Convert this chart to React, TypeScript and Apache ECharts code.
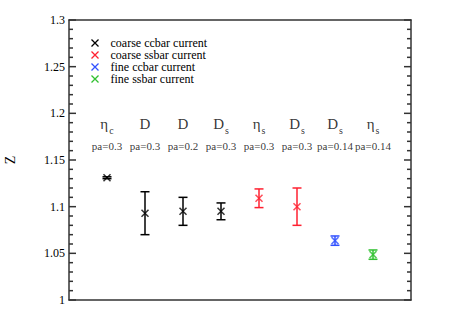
import React, { useEffect, useRef } from "react";
import * as echarts from "echarts";

const seriesNames = ["coarse ccbar current", "coarse ssbar current", "fine ccbar current", "fine ssbar current"];
const seriesColors = ["#000000", "#ff2030", "#3050ff", "#30c030"];
const positions = [1, 2, 3, 4, 5, 6, 7, 8];
const mesonBase = ["η", "D", "D", "D", "η", "D", "D", "η"];
const mesonSub = ["c", "", "", "s", "s", "s", "s", "s"];
const paLabels = ["pa=0.3", "pa=0.3", "pa=0.2", "pa=0.3", "pa=0.3", "pa=0.3", "pa=0.14", "pa=0.14"];
const zValues = [1.131, 1.093, 1.095, 1.095, 1.109, 1.1, 1.0636, 1.0486];
const zErrors = [0.001, 0.023, 0.015, 0.009, 0.01, 0.02, 0.005, 0.005];
const groupIndex = [0, 0, 0, 0, 1, 1, 2, 3];
const yTicks = [1, 1.05, 1.1, 1.15, 1.2, 1.25, 1.3];
const yMinorTicks = [
  1.01, 1.02, 1.03, 1.04, 1.06, 1.07, 1.08, 1.09, 1.11, 1.12, 1.13, 1.14,
  1.16, 1.17, 1.18, 1.19, 1.21, 1.22, 1.23, 1.24, 1.26, 1.27, 1.28, 1.29,
];
const nameLabelZ = 1.1905;
const paLabelZ = 1.165;
const X_MIN = 0;
const X_MAX = 9;

const FONT = "Liberation Serif";
const XPATH = "path://M0,0L10,10M10,0L0,10";
const MAJOR_LEN = 7;
const MINOR_LEN = 4;

export default function App() {
  const ref = useRef<HTMLDivElement>(null);
  useEffect(() => {
    const chart = echarts.init(ref.current!, null, { renderer: "svg" });
    const series: any[] = [];
    const tickColor = "#333";
    series.push({
      type: "custom",
      silent: true,
      clip: false,
      data: [
        ...yTicks.map((v) => [X_MIN, v, MAJOR_LEN]),
        ...yMinorTicks.map((v) => [X_MIN, v, MINOR_LEN]),
      ],
      renderItem: (params: any, api: any) => {
        const v = api.value(1);
        const len = api.value(2);
        const l = api.coord([X_MIN, v]);
        const r = api.coord([X_MAX, v]);
        const st = { stroke: tickColor, lineWidth: 1.5 };
        return {
          type: "group",
          children: [
            { type: "line", shape: { x1: l[0], y1: l[1], x2: l[0] + len, y2: l[1] }, style: st },
            { type: "line", shape: { x1: r[0], y1: r[1], x2: r[0] - len, y2: r[1] }, style: st },
          ],
        };
      },
      z: 1,
    });
    seriesNames.forEach((name, g) => {
      const idx = positions.map((_, i) => i).filter((i) => groupIndex[i] === g);
      const color = seriesColors[g];
      series.push({
        type: "custom",
        name,
        silent: true,
        data: idx.map((i) => [positions[i], zValues[i], zValues[i] - zErrors[i], zValues[i] + zErrors[i]]),
        renderItem: (params: any, api: any) => {
          const x = api.value(0);
          const lo = api.coord([x, api.value(2)]);
          const hi = api.coord([x, api.value(3)]);
          const hw = 4.5;
          const st = { stroke: color, lineWidth: 1.5 };
          return {
            type: "group",
            children: [
              { type: "line", shape: { x1: lo[0], y1: lo[1], x2: hi[0], y2: hi[1] }, style: st },
              { type: "line", shape: { x1: lo[0] - hw, y1: lo[1], x2: lo[0] + hw, y2: lo[1] }, style: st },
              { type: "line", shape: { x1: hi[0] - hw, y1: hi[1], x2: hi[0] + hw, y2: hi[1] }, style: st },
            ],
          };
        },
        z: 2,
      });
      series.push({
        type: "scatter",
        name,
        symbol: XPATH,
        symbolSize: 7,
        itemStyle: { color: "none", borderColor: color, borderWidth: 1.5 },
        data: idx.map((i) => [positions[i], zValues[i]]),
        z: 3,
      });
    });
    series.push({
      type: "scatter",
      silent: true,
      symbolSize: 0,
      data: positions.map((p, i) => ({ value: [p, nameLabelZ], base: mesonBase[i], sub: mesonSub[i] })),
      label: {
        show: true,
        position: "inside",
        formatter: (p: any) => {
          const d = p.data;
          return d.sub ? `{b|${d.base}}{s|${d.sub}}` : `{b|${d.base}}`;
        },
        rich: {
          b: { fontFamily: FONT, fontSize: 15, color: "#000", verticalAlign: "bottom", lineHeight: 18 },
          s: { fontFamily: FONT, fontSize: 10, color: "#000", verticalAlign: "bottom", lineHeight: 10, padding: [0, 0, -4, 1] },
        },
      },
    });
    series.push({
      type: "scatter",
      silent: true,
      symbolSize: 0,
      data: positions.map((p, i) => ({ value: [p, paLabelZ], pa: paLabels[i] })),
      label: {
        show: true,
        position: "inside",
        formatter: (p: any) => p.data.pa,
        fontFamily: FONT,
        fontSize: 11,
        color: "#000",
      },
    });

    const axisLine = { show: true, onZero: false, lineStyle: { color: "#333", width: 1.5 } };
    const hiddenX = { axisLine, axisTick: { show: false }, axisLabel: { show: false }, splitLine: { show: false } };
    chart.setOption({
      animation: false,
      grid: { left: 69, right: 46, top: 20, bottom: 23, outerBoundsMode: "none", containLabel: false },
      legend: {
        orient: "vertical",
        left: 84,
        top: 32,
        itemWidth: 7,
        itemHeight: 7,
        itemGap: 0,
        data: seriesNames.map((n, g) => ({
          name: n,
          icon: XPATH,
          itemStyle: { color: "none", borderColor: seriesColors[g], borderWidth: 1.3 },
        })),
        textStyle: { fontFamily: FONT, fontSize: 12, color: "#000", padding: [0, 0, 0, 7], lineHeight: 12 },
        selectedMode: false,
      },
      xAxis: [
        { type: "value", min: X_MIN, max: X_MAX, ...hiddenX },
        { type: "value", position: "top", min: X_MIN, max: X_MAX, ...hiddenX },
      ],
      yAxis: [
        {
          type: "value",
          position: "left",
          min: 1,
          max: 1.3,
          interval: 0.05,
          name: "Z",
          nameLocation: "middle",
          nameRotate: 90,
          nameGap: 52,
          nameTextStyle: { fontFamily: FONT, fontSize: 14, color: "#000" },
          axisLine,
          axisTick: { show: false },
          axisLabel: {
            fontFamily: FONT,
            fontSize: 12,
            color: "#000",
            margin: 4,
            formatter: (v: number) => {
              const t = yTicks.find((k) => Math.abs(k - v) < 1e-6);
              return t === undefined ? "" : String(parseFloat(t.toFixed(2)));
            },
          },
          splitLine: { show: false },
        },
        {
          type: "value",
          position: "right",
          min: 1,
          max: 1.3,
          interval: 0.05,
          axisLine,
          axisTick: { show: false },
          axisLabel: { show: false },
          splitLine: { show: false },
        },
      ],
      series,
    });
    return () => chart.dispose();
  }, []);
  return <div ref={ref} style={{ width: 457, height: 323, position: "absolute", left: 0, top: 0, background: "#fff" }} />;
}
